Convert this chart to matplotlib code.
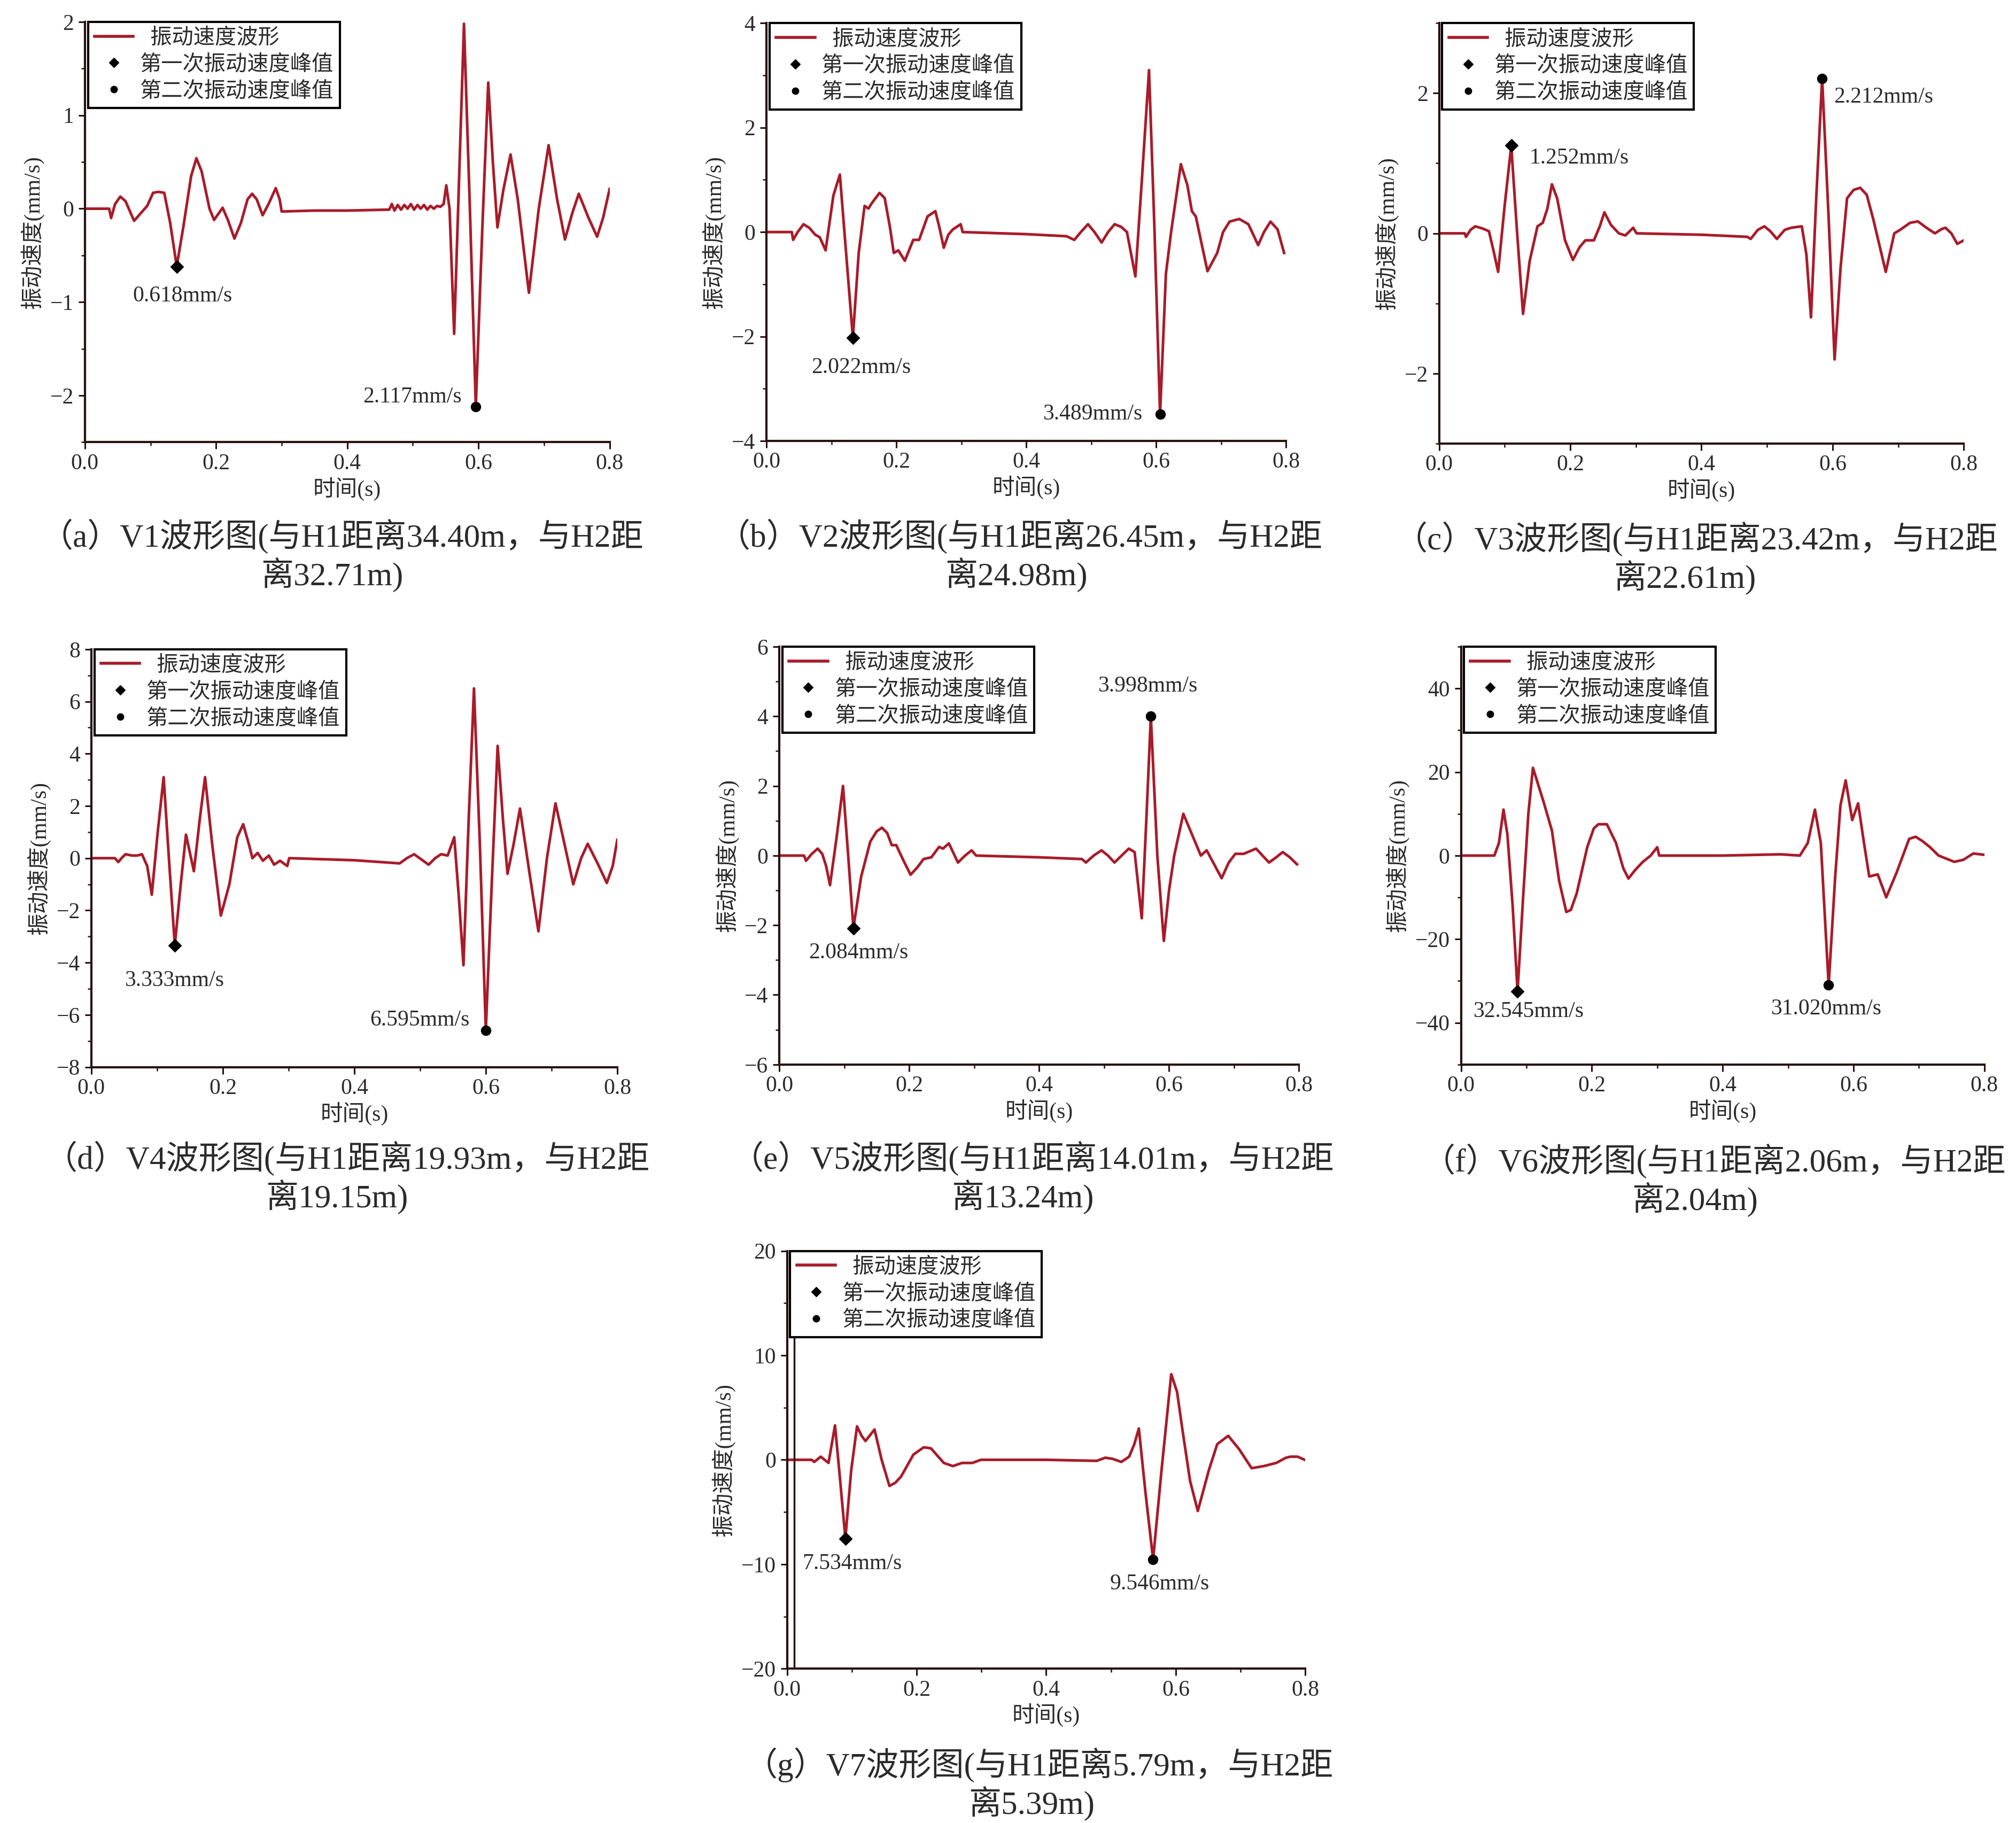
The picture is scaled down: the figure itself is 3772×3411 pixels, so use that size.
import matplotlib
matplotlib.use("Agg")
import matplotlib.pyplot as plt
from matplotlib.lines import Line2D
from matplotlib.ticker import MultipleLocator

plt.rcParams['font.family'] = ['Liberation Serif', 'Noto Sans CJK SC']
plt.rcParams['axes.unicode_minus'] = True

# ---------------------------------------------------------------
# waveform data (time s, velocity mm/s)
# ---------------------------------------------------------------
t_a = [0.0, 0.037, 0.040, 0.046, 0.054, 0.062, 0.075, 0.085, 0.095, 0.104, 0.112, 0.121, 0.130, 0.140,
       0.150, 0.162, 0.170, 0.178, 0.190, 0.197, 0.204, 0.210, 0.218, 0.228, 0.238, 0.248, 0.255, 0.262,
       0.271, 0.280, 0.291, 0.297, 0.300, 0.350, 0.400, 0.464, 0.468, 0.472, 0.477, 0.482, 0.487, 0.492,
       0.497, 0.502, 0.507, 0.512, 0.517, 0.522, 0.527, 0.532, 0.537, 0.542, 0.547, 0.551, 0.556, 0.563,
       0.570, 0.578, 0.587, 0.596, 0.606, 0.615, 0.622, 0.629, 0.638, 0.649, 0.660, 0.677, 0.692, 0.707,
       0.720, 0.732, 0.743, 0.753, 0.768, 0.781, 0.790, 0.800]
v_a = [0, 0, -0.10, 0.05, 0.13, 0.08, -0.13, -0.05, 0.03, 0.17, 0.18, 0.17, -0.15, -0.618,
       -0.20, 0.35, 0.54, 0.40, 0.00, -0.12, -0.05, 0.01, -0.12, -0.32, -0.15, 0.10, 0.16, 0.10,
       -0.07, 0.05, 0.22, 0.10, -0.03, -0.02, -0.02, -0.01, 0.05, -0.02, 0.04, -0.01, 0.04, 0.0,
       0.05, -0.01, 0.04, 0.0, 0.04, -0.01, 0.03, 0.0, 0.03, 0.02, 0.05, 0.25, 0.0, -1.34,
       0.2, 1.98, 0.0, -2.117, -0.2, 1.35, 0.5, -0.2, 0.2, 0.58, 0.1, -0.9, 0.0, 0.68,
       0.1, -0.33, -0.05, 0.16, -0.1, -0.3, -0.1, 0.21]

t_b = [0.0, 0.039, 0.041, 0.048, 0.057, 0.066, 0.075, 0.082, 0.091, 0.103, 0.113, 0.120, 0.133, 0.142,
       0.151, 0.157, 0.162, 0.174, 0.182, 0.190, 0.196, 0.203, 0.213, 0.226, 0.235, 0.248, 0.260, 0.266,
       0.273, 0.280, 0.287, 0.299, 0.302, 0.400, 0.462, 0.474, 0.484, 0.495, 0.505, 0.516, 0.526, 0.536,
       0.546, 0.555, 0.568, 0.578, 0.589, 0.597, 0.606, 0.615, 0.623, 0.638, 0.648, 0.655, 0.661, 0.679,
       0.694, 0.703, 0.713, 0.728, 0.742, 0.757, 0.766, 0.776, 0.787, 0.797]
v_b = [0, 0, -0.15, 0.0, 0.15, 0.08, -0.05, -0.10, -0.35, 0.70, 1.10, 0.0, -2.022, -0.4,
       0.50, 0.45, 0.55, 0.75, 0.65, 0.1, -0.40, -0.35, -0.55, -0.15, -0.15, 0.30, 0.40, 0.1,
       -0.30, -0.05, 0.05, 0.15, 0.0, -0.04, -0.08, -0.15, 0.0, 0.15, 0.0, -0.20, 0.0, 0.15,
       0.10, 0.0, -0.85, 1.0, 3.10, 0.2, -3.489, -0.8, 0.0, 1.30, 0.9, 0.40, 0.30, -0.75,
       -0.40, 0.0, 0.20, 0.25, 0.15, -0.25, 0.0, 0.20, 0.05, -0.40]

t_c = [0.0, 0.039, 0.041, 0.048, 0.055, 0.066, 0.076, 0.083, 0.090, 0.100, 0.110, 0.119, 0.128, 0.138,
       0.150, 0.158, 0.165, 0.172, 0.180, 0.192, 0.204, 0.214, 0.223, 0.236, 0.245, 0.252, 0.262, 0.274,
       0.284, 0.296, 0.301, 0.400, 0.470, 0.475, 0.486, 0.496, 0.505, 0.515, 0.527, 0.537, 0.553, 0.560,
       0.567, 0.575, 0.584, 0.594, 0.603, 0.612, 0.622, 0.632, 0.642, 0.652, 0.662, 0.681, 0.694, 0.703,
       0.718, 0.730, 0.743, 0.756, 0.766, 0.772, 0.781, 0.790, 0.800]
v_c = [0, 0, -0.05, 0.05, 0.10, 0.07, 0.03, -0.25, -0.55, 0.4, 1.252, 0.0, -1.15, -0.4,
       0.10, 0.15, 0.35, 0.70, 0.5, -0.1, -0.38, -0.2, -0.10, -0.10, 0.1, 0.30, 0.12, 0.0,
       -0.03, 0.08, 0.0, -0.02, -0.05, -0.08, 0.05, 0.10, 0.03, -0.08, 0.05, 0.08, 0.10, -0.3,
       -1.20, 0.5, 2.212, 0.2, -1.80, -0.5, 0.50, 0.62, 0.65, 0.55, 0.2, -0.55, 0.0, 0.05,
       0.15, 0.17, 0.08, 0.0, 0.06, 0.08, 0.0, -0.15, -0.10]

t_d = [0.0, 0.036, 0.041, 0.046, 0.052, 0.062, 0.070, 0.077, 0.085, 0.092, 0.101, 0.110, 0.118, 0.127,
       0.136, 0.144, 0.156, 0.165, 0.173, 0.184, 0.197, 0.210, 0.222, 0.231, 0.240, 0.245, 0.253, 0.261,
       0.270, 0.278, 0.287, 0.298, 0.301, 0.400, 0.469, 0.480, 0.491, 0.502, 0.513, 0.523, 0.532, 0.542,
       0.552, 0.559, 0.566, 0.574, 0.582, 0.591, 0.600, 0.609, 0.618, 0.626, 0.633, 0.642, 0.652, 0.666,
       0.680, 0.693, 0.706, 0.720, 0.733, 0.745, 0.755, 0.770, 0.784, 0.793, 0.800]
v_d = [0, 0, -0.15, 0.0, 0.15, 0.10, 0.10, 0.15, -0.3, -1.4, 1.0, 3.1, 0.0, -3.333,
       -1.0, 0.9, -0.5, 1.5, 3.1, 0.5, -2.2, -1.0, 0.8, 1.3, 0.5, 0.0, 0.2, -0.1,
       0.1, -0.25, -0.1, -0.3, 0.0, -0.08, -0.2, 0.0, 0.15, -0.05, -0.25, 0.0, 0.15, 0.1,
       0.8, -1.5, -4.1, 1.5, 6.5, 0.5, -6.595, -1.0, 4.3, 1.5, -0.6, 0.5, 1.9, -0.5,
       -2.8, 0.0, 2.1, 0.5, -1.0, 0.0, 0.55, -0.2, -0.95, -0.3, 0.7]

t_e = [0.0, 0.038, 0.041, 0.050, 0.059, 0.066, 0.072, 0.078, 0.088, 0.098, 0.106, 0.114, 0.126, 0.140,
       0.150, 0.158, 0.166, 0.173, 0.180, 0.190, 0.202, 0.212, 0.222, 0.234, 0.246, 0.252, 0.261, 0.275,
       0.286, 0.296, 0.303, 0.400, 0.466, 0.472, 0.484, 0.496, 0.506, 0.516, 0.527, 0.538, 0.547, 0.558,
       0.565, 0.572, 0.582, 0.592, 0.600, 0.608, 0.622, 0.631, 0.640, 0.649, 0.658, 0.668, 0.681, 0.692,
       0.702, 0.715, 0.734, 0.744, 0.754, 0.765, 0.775, 0.786, 0.797]
v_e = [0, 0, -0.15, 0.05, 0.20, 0.05, -0.3, -0.85, 0.5, 2.0, 0.0, -2.084, -0.6, 0.4,
       0.7, 0.8, 0.65, 0.30, 0.30, -0.1, -0.55, -0.35, -0.10, -0.05, 0.25, 0.20, 0.35, -0.20,
       0.0, 0.15, 0.0, -0.05, -0.10, -0.2, 0.0, 0.15, 0.0, -0.20, 0.0, 0.20, 0.1, -1.8,
       1.0, 3.998, 0.0, -2.45, -1.0, 0.0, 1.2, 0.8, 0.4, 0.0, 0.15, -0.2, -0.65, -0.2,
       0.05, 0.05, 0.2, 0.0, -0.2, -0.05, 0.10, -0.05, -0.25]

t_f = [0.0, 0.051, 0.058, 0.065, 0.071, 0.079, 0.0865, 0.095, 0.103, 0.110, 0.118, 0.126, 0.139, 0.150,
       0.161, 0.168, 0.177, 0.193, 0.203, 0.210, 0.223, 0.237, 0.248, 0.256, 0.266, 0.278, 0.290, 0.300,
       0.303, 0.400, 0.489, 0.518, 0.530, 0.541, 0.550, 0.562, 0.572, 0.580, 0.588, 0.598, 0.607, 0.616,
       0.624, 0.637, 0.650, 0.666, 0.685, 0.695, 0.705, 0.717, 0.730, 0.754, 0.768, 0.783, 0.799]
v_f = [0, 0, 3.0, 11.0, 5.0, -12.0, -32.545, -10.0, 10.0, 21.0, 17.0, 13.0, 6.0, -6.0,
       -13.5, -13.0, -9.0, 2.0, 6.5, 7.5, 7.5, 3.0, -3.0, -5.5, -3.5, -1.5, 0.0, 2.0,
       0.0, 0.0, 0.3, 0.0, 3.0, 11.0, 3.0, -31.02, -5.0, 12.0, 18.0, 8.5, 12.5, 3.0,
       -5.0, -4.5, -10.0, -4.0, 4.0, 4.5, 3.5, 2.0, 0.0, -1.5, -1.0, 0.5, 0.2]

t_g = [0.0, 0.038, 0.042, 0.052, 0.058, 0.064, 0.074, 0.082, 0.090, 0.099, 0.108, 0.115, 0.121, 0.135,
       0.146, 0.158, 0.167, 0.176, 0.195, 0.211, 0.222, 0.242, 0.256, 0.270, 0.286, 0.299, 0.400, 0.478,
       0.491, 0.502, 0.516, 0.528, 0.536, 0.543, 0.553, 0.565, 0.578, 0.593, 0.602, 0.610, 0.622, 0.634,
       0.651, 0.664, 0.681, 0.698, 0.717, 0.736, 0.755, 0.770, 0.777, 0.788, 0.799]
v_g = [0, 0, -0.2, 0.3, 0.0, -0.3, 3.3, -2.0, -7.534, -1.0, 3.2, 2.3, 1.8, 2.9,
       0.0, -2.5, -2.2, -1.6, 0.5, 1.2, 1.1, -0.3, -0.6, -0.3, -0.3, 0.0, 0.0, -0.1,
       0.2, 0.1, -0.2, 0.3, 1.5, 3.0, -3.0, -9.546, -1.0, 8.2, 6.5, 3.0, -2.0, -4.9,
       -1.0, 1.5, 2.3, 1.0, -0.8, -0.6, -0.3, 0.2, 0.3, 0.3, 0.0]

# peaks (first and second vibration)
peak1_t = [0.140, 0.133, 0.110, 0.127, 0.114, 0.0865, 0.090]
peak1_v = [-0.618, -2.022, 1.252, -3.333, -2.084, -32.545, -7.534]
peak2_t = [0.596, 0.606, 0.584, 0.600, 0.572, 0.562, 0.565]
peak2_v = [-2.117, -3.489, 2.212, -6.595, 3.998, -31.02, -9.546]
peak1_label = ["0.618mm/s", "2.022mm/s", "1.252mm/s", "3.333mm/s", "2.084mm/s", "32.545mm/s", "7.534mm/s"]
peak2_label = ["2.117mm/s", "3.489mm/s", "2.212mm/s", "6.595mm/s", "3.998mm/s", "31.020mm/s", "9.546mm/s"]

# y-axis ranges per panel
y_lims = [(-2.5, 2), (-4, 4), (-3, 3), (-8, 8), (-6, 6), (-50, 50), (-20, 20)]
y_major = [1, 2, 2, 2, 2, 20, 10]
y_minor = [0.5, 1, 1, 1, 1, 10, 5]

cap_line1 = ["（a）V1波形图(与H1距离34.40m，与H2距",
             "（b）V2波形图(与H1距离26.45m，与H2距",
             "（c）V3波形图(与H1距离23.42m，与H2距",
             "（d）V4波形图(与H1距离19.93m，与H2距",
             "（e）V5波形图(与H1距离14.01m，与H2距",
             "（f）V6波形图(与H1距离2.06m，与H2距",
             "（g）V7波形图(与H1距离5.79m，与H2距"]
cap_line2 = ["离32.71m)", "离24.98m)", "离22.61m)", "离19.15m)", "离13.24m)", "离2.04m)", "离5.39m)"]

waves = [(t_a, v_a), (t_b, v_b), (t_c, v_c), (t_d, v_d), (t_e, v_e), (t_f, v_f), (t_g, v_g)]

# ---------------------------------------------------------------
# layout (reference pixels on a 1568 x 1418 grid)
# ---------------------------------------------------------------
W, H = 1568.0, 1418.0
# left, right, top, bottom of each plotting area
boxes = [(66, 474, 17, 344), (596, 1000, 18, 343), (1119, 1527, 18, 345),
         (71, 480, 505, 830), (606, 1010, 503, 828), (1136, 1543, 503, 828),
         (612, 1015, 973, 1298)]
cap_pos1 = [(266, 417), (793, 417), (1319, 419), (270, 901), (803, 901), (1333, 903), (808, 1373)]
cap_pos2 = [(258, 447), (790, 447), (1310, 449), (262, 931), (795, 931), (1318, 933), (802, 1403)]
# annotation offsets in points: (dx, dy, ha)
ann1 = [(8, -40, 'center'), (11, -40, 'center'), (24, -17, 'left'), (0, -48, 'center'),
        (7, -33, 'center'), (15, -27, 'center'), (9, -34, 'center')]
ann2 = [(-19, 13, 'right'), (-23, 0, 'right'), (16, -25, 'left'), (-22, 14, 'right'),
        (-4, 41, 'center'), (-3, -32, 'center'), (9, -33, 'center')]

LINE_C = '#a81c2a'
AX_C = '#2a1010'
TXT_C = '#2b2b2b'

fig = plt.figure(figsize=(37.73, 34.11), dpi=100)

for i in range(7):
    l, r, t, b = boxes[i]
    ax = fig.add_axes([l / W, 1 - b / H, (r - l) / W, (b - t) / H])
    tt, vv = waves[i]
    ax.plot(tt, vv, color=LINE_C, lw=3.6, solid_joinstyle='round')
    ax.plot(peak1_t[i], peak1_v[i], 'D', color='black', ms=12)
    ax.plot(peak2_t[i], peak2_v[i], 'o', color='black', ms=13)

    dx, dy, ha = ann1[i]
    ax.annotate(peak1_label[i], (peak1_t[i], peak1_v[i]), xytext=(dx, dy),
                textcoords='offset points', ha=ha, va='center', fontsize=30, color=TXT_C)
    dx, dy, ha = ann2[i]
    ax.annotate(peak2_label[i], (peak2_t[i], peak2_v[i]), xytext=(dx, dy),
                textcoords='offset points', ha=ha, va='center', fontsize=30, color=TXT_C)

    ax.set_xlim(0, 0.8)
    ax.set_ylim(*y_lims[i])
    ax.xaxis.set_major_locator(MultipleLocator(0.2))
    ax.xaxis.set_minor_locator(MultipleLocator(0.1))
    ax.yaxis.set_major_locator(MultipleLocator(y_major[i]))
    ax.yaxis.set_minor_locator(MultipleLocator(y_minor[i]))
    ax.xaxis.set_major_formatter(matplotlib.ticker.FormatStrFormatter('%.1f'))
    if i == 2:
        ax.set_yticks([-2, 0, 2])

    for s in ['top', 'right']:
        ax.spines[s].set_visible(False)
    for s in ['left', 'bottom']:
        ax.spines[s].set_color(AX_C)
        ax.spines[s].set_linewidth(3)
    ax.tick_params(which='major', direction='out', length=9, width=2.2, colors=AX_C,
                   labelsize=30, labelcolor=TXT_C, pad=6)
    ax.tick_params(which='minor', direction='out', length=5, width=1.8, colors=AX_C)

    ax.set_xlabel("时间(s)", fontsize=30, color=TXT_C, labelpad=4)
    ax.set_ylabel("振动速度(mm/s)", fontsize=30, color=TXT_C, labelpad=8)

    if i == 6:
        # second vertical rule next to the axis, as in the scanned figure
        ax.axvline(0.011, color=AX_C, lw=2.5)

    handles = [Line2D([], [], color=LINE_C, lw=4),
               Line2D([], [], ls='none', marker='D', color='black', ms=9),
               Line2D([], [], ls='none', marker='o', color='black', ms=9)]
    labels = ["  振动速度波形", "第一次振动速度峰值", "第二次振动速度峰值"]
    leg = ax.legend(handles, labels, loc='upper left', bbox_to_anchor=(0.006, 1.0),
                    borderaxespad=0, fontsize=29, frameon=True, fancybox=False,
                    handlelength=1.8, handletextpad=0.3, labelspacing=0.3,
                    borderpad=0.3, labelcolor=TXT_C)
    leg.get_frame().set_edgecolor('black')
    leg.get_frame().set_linewidth(3)
    leg.get_frame().set_alpha(1)

    fig.text(cap_pos1[i][0] / W, 1 - cap_pos1[i][1] / H, cap_line1[i],
             ha='center', va='center', fontsize=44, color=TXT_C)
    fig.text(cap_pos2[i][0] / W, 1 - cap_pos2[i][1] / H, cap_line2[i],
             ha='center', va='center', fontsize=44, color=TXT_C)

fig.savefig("out.png", dpi=100, facecolor='white')
